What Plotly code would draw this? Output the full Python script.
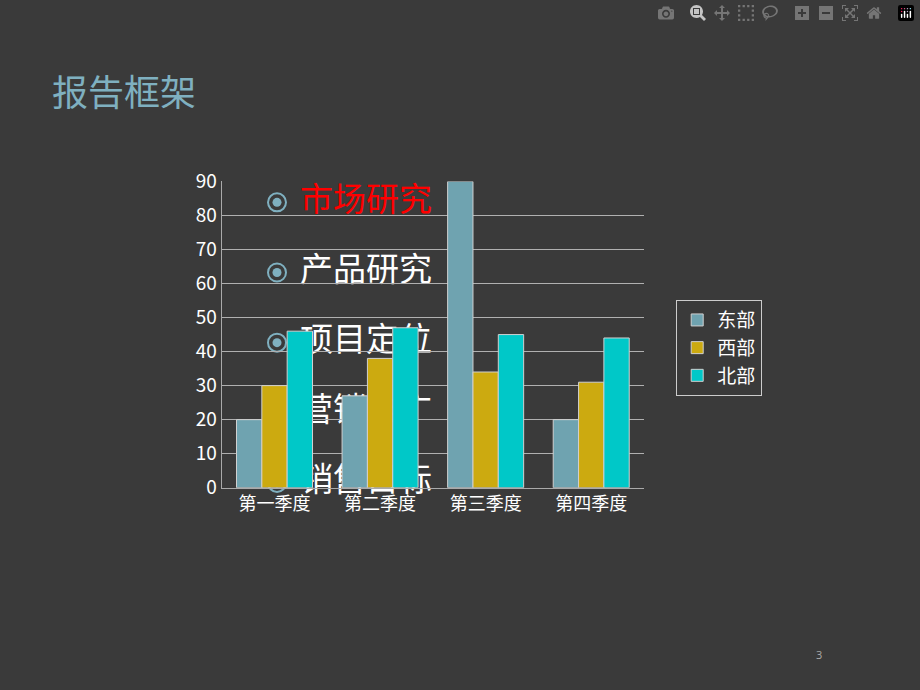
import plotly.graph_objects as go

categories = ["第一季度", "第二季度", "第三季度", "第四季度"]
east = [20, 27, 90, 20]
west = [30, 38, 34, 31]
north = [46, 47, 45, 44]
series_names = ["东部", "西部", "北部"]
bullets = ["市场研究", "产品研究", "项目定位", "营销推广", "销售目标"]
bullet_colors = ["#ff0000", "white", "white", "white", "white"]

FONT = "Noto Sans CJK SC"
fig = go.Figure()

by = [195, 268, 341, 414, 487]
fig.add_trace(go.Scatter(x=[277]*5, y=by, mode="markers", xaxis="x", yaxis="y",
                         marker=dict(symbol="circle-dot", size=18, color="rgba(0,0,0,0)",
                                     line=dict(color="#7fb0c0", width=2)),
                         showlegend=False, hoverinfo="skip"))
fig.add_trace(go.Scatter(x=[277]*5, y=by, mode="markers", xaxis="x", yaxis="y",
                         marker=dict(size=9, color="#7fb0c0"), showlegend=False, hoverinfo="skip"))
fig.add_trace(go.Scatter(x=[300]*5, y=by, mode="text", text=bullets, textposition="middle right",
                         textfont=dict(size=33, color=bullet_colors, family=FONT),
                         xaxis="x", yaxis="y", showlegend=False, hoverinfo="skip"))

colors = ["#6fa3b0", "#ccaa10", "#00c8c8"]
for name, vals, c in zip(series_names, [east, west, north], colors):
    fig.add_trace(go.Bar(x=categories, y=vals, name=name, xaxis="x2", yaxis="y2",
                         marker=dict(color=c, line=dict(color="#d0d0d0", width=1))))

fig.update_layout(
    width=920, height=690, margin=dict(l=0, r=0, t=0, b=0),
    paper_bgcolor="#3a3a3a", plot_bgcolor="rgba(0,0,0,0)",
    barmode="group", bargap=0.28, bargroupgap=0,
    xaxis=dict(domain=[0, 1], range=[0, 920], visible=False),
    yaxis=dict(domain=[0, 1], range=[690, 0], visible=False),
    xaxis2=dict(domain=[0.241, 0.700], anchor="y2", showline=True, linecolor="#aaaaaa",
                tickfont=dict(size=18, color="white", family=FONT), ticks=""),
    yaxis2=dict(domain=[0.287, 0.749], anchor="x2", range=[0, 90], dtick=10,
                showgrid=True, gridcolor="#b0b0b0", showline=True, linecolor="#aaaaaa",
                tickfont=dict(size=19, color="white", family=FONT), zeroline=False),
    legend=dict(x=0.735, y=0.57, xanchor="left", yanchor="top", bgcolor="#3a3a3a",
                bordercolor="#cccccc", borderwidth=1,
                font=dict(size=19, color="white", family=FONT)),
    annotations=[
        dict(text="报告框架", x=50/920, y=1-78/690, xref="paper", yref="paper",
             xanchor="left", yanchor="middle", showarrow=False,
             font=dict(size=36, color="#7fb0c0", family=FONT)),
        dict(text="3", x=824/920, y=1-675/690, xref="paper", yref="paper",
             showarrow=False, font=dict(size=11, color="#aaaaaa")),
    ],
)
fig.write_html("out.html", post_script="document.body.style.margin='0';document.body.style.background='#3a3a3a';")
